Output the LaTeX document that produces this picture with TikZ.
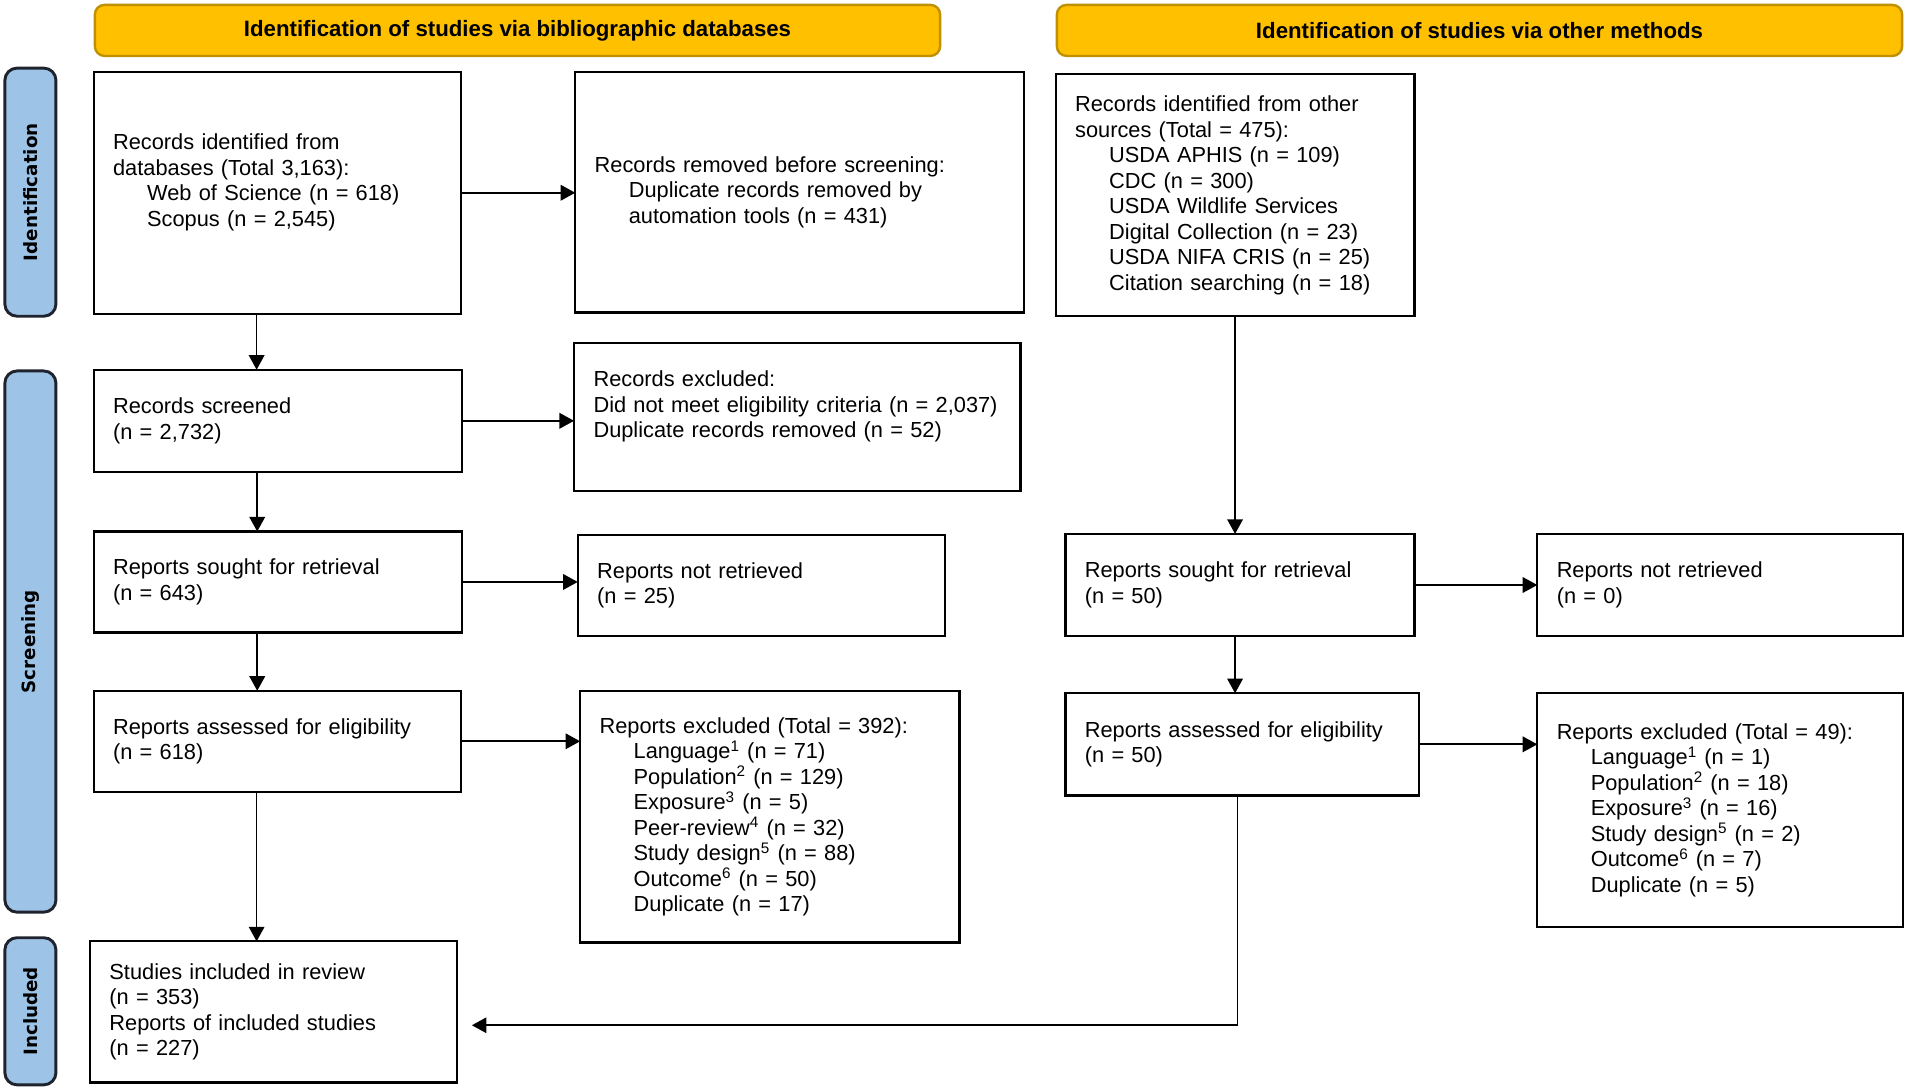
\documentclass[tikz,border=0pt]{standalone}
\usepackage{fontspec}
\setmainfont{Liberation Sans}
\newfontfamily\sidefont{DejaVu Sans}
\usepackage{tikz}
\usetikzlibrary{arrows.meta}
\usetikzlibrary{positioning}
\usetikzlibrary{calc}
\definecolor{headGold}{RGB}{255,192,0}
\definecolor{headEdge}{RGB}{191,144,0}
\definecolor{sideBlue}{RGB}{157,195,230}
\definecolor{sideEdge}{RGB}{30,35,45}
\newcommand{\indt}{\hspace*{0.7cm}}
\tikzstyle{recordBox} = [rectangle, draw, line width=1.3pt, outer sep=0pt, anchor=north west, inner xsep=0.4cm, align=left, font=\fontsize{12.75}{14.9}\selectfont]
\tikzstyle{headBox} = [rectangle, rounded corners=0.2cm, draw=headEdge, line width=1.4pt, outer sep=0pt, fill=headGold, anchor=north west, minimum width=17.375cm, minimum height=1.05cm, font=\fontsize{13}{15}\selectfont\bfseries]
\tikzstyle{sideBox} = [rectangle, rounded corners=0.25cm, draw=sideEdge, line width=1.7pt, fill=sideBlue, rotate=90, minimum height=1.05cm, font=\sidefont\fontsize{10.7}{12}\selectfont\bfseries]
\tikzstyle{flowArrow} = [line width=1pt, -{Triangle[length=0.3cm,width=0.32cm]}]

\begin{document}
\begin{tikzpicture}
	\useasboundingbox (0,0) rectangle (39.2,-22.425);

	% headers
	\node[headBox] (head-db) at (1.95,-0.1) {Identification of studies via bibliographic databases};
	\node[headBox] (head-other) at ([xshift=2.4cm]head-db.north east) {Identification of studies via other methods};

	% phase labels
	\node[sideBox, minimum width=5.1cm] (side-ident) at (0.625,-3.95) {Identification};
	\node[sideBox, minimum width=11.125cm] (side-screen) at (0.625,-13.1875) {Screening};
	\node[sideBox, minimum width=3.025cm] (side-incl) at (0.625,-20.7875) {Included};

	% databases
	\node[recordBox, text width=6.75cm, minimum height=4.975cm] (db-ident) at (1.925,-1.475) {Records identified from\\databases (Total 3,163):\\ \indt Web of Science (n = 618)\\ \indt Scopus (n = 2,545)\\ \mbox{}};

	\node[recordBox, text width=8.425cm, minimum height=4.95cm] (db-removed) at ([xshift=2.35cm]db-ident.north east) {Records removed before screening:\\ \indt Duplicate records removed by\\ \indt automation tools (n = 431)};

	\node[recordBox, text width=6.775cm, minimum height=2.1cm] (db-screened) at ([yshift=-1.15cm]db-ident.south west) {Records screened\\(n = 2,732)};

	\node[recordBox, text width=8.375cm, minimum height=3.05cm] (db-excluded) at ([xshift=2.3cm, yshift=0.55cm]db-screened.north east) {Records excluded:\\\mbox{Did not meet eligibility criteria (n = 2,037)}\\Duplicate records removed (n = 52)\\ \mbox{}};

	\node[recordBox, text width=6.775cm, minimum height=2.075cm] (db-sought) at ([yshift=-1.225cm]db-screened.south west) {Reports sought for retrieval\\(n = 643)};

	\node[recordBox, text width=6.75cm, minimum height=2.075cm] (db-notret) at ([xshift=2.375cm, yshift=-0.075cm]db-sought.north east) {Reports not retrieved\\(n = 25)};

	\node[recordBox, text width=6.75cm, minimum height=2.075cm] (db-assessed) at ([yshift=-1.2cm]db-sought.south west) {Reports assessed for eligibility\\(n = 618)};

	\node[recordBox, text width=7cm, minimum height=5.175cm] (db-repexcl) at ([xshift=2.45cm]db-assessed.north east) {Reports excluded (Total = 392):\\ \indt Language\textsuperscript{1} (n = 71)\\ \indt Population\textsuperscript{2} (n = 129)\\ \indt Exposure\textsuperscript{3} (n = 5)\\ \indt Peer-review\textsuperscript{4} (n = 32)\\ \indt Study design\textsuperscript{5} (n = 88)\\ \indt Outcome\textsuperscript{6} (n = 50)\\ \indt Duplicate (n = 17)};

	\node[recordBox, text width=6.75cm, minimum height=2.9cm] (included) at ([xshift=-0.075cm, yshift=-3.075cm]db-assessed.south west) {Studies included in review\\(n = 353)\\Reports of included studies\\(n = 227)};

	% other methods
	\node[recordBox, text width=6.575cm, minimum height=4.975cm] (oth-ident) at (21.7,-1.525) {Records identified from other\\sources (Total = 475):\\ \indt USDA APHIS (n = 109)\\ \indt CDC (n = 300)\\ \indt USDA Wildlife Services\\ \indt Digital Collection (n = 23)\\ \indt USDA NIFA CRIS (n = 25)\\ \indt Citation searching (n = 18)};

	\node[recordBox, text width=6.375cm, minimum height=2.1cm] (oth-sought) at ([xshift=0.2cm, yshift=-4.475cm]oth-ident.south west) {Reports sought for retrieval\\(n = 50)};

	\node[recordBox, text width=6.725cm, minimum height=2.1cm] (oth-notret) at ([xshift=2.525cm]oth-sought.north east) {Reports not retrieved\\(n = 0)};

	\node[recordBox, text width=6.475cm, minimum height=2.1cm] (oth-assessed) at ([yshift=-1.175cm]oth-sought.south west) {Reports assessed for eligibility\\(n = 50)};

	\node[recordBox, text width=6.725cm, minimum height=4.8cm] (oth-repexcl) at ([xshift=2.425cm]oth-assessed.north east) {Reports excluded (Total = 49):\\ \indt Language\textsuperscript{1} (n = 1)\\ \indt Population\textsuperscript{2} (n = 18)\\ \indt Exposure\textsuperscript{3} (n = 16)\\ \indt Study design\textsuperscript{5} (n = 2)\\ \indt Outcome\textsuperscript{6} (n = 7)\\ \indt Duplicate (n = 5)};

	\coordinate (incl-in) at ([xshift=0.3cm, yshift=-0.275cm]included.east);

	% arrows
	\draw[flowArrow] (db-ident.east) -- (db-ident.east -| db-removed.west);
	\draw[flowArrow] (db-screened.east) -- (db-screened.east -| db-excluded.west);
	\draw[flowArrow] (db-sought.east) -- (db-sought.east -| db-notret.west);
	\draw[flowArrow] (db-assessed.east) -- (db-assessed.east -| db-repexcl.west);
	\draw[flowArrow] ([xshift=-0.425cm]db-ident.south) -- ([xshift=-0.425cm]db-ident.south |- db-screened.north);
	\draw[flowArrow] ([xshift=-0.425cm]db-screened.south) -- ([xshift=-0.425cm]db-screened.south |- db-sought.north);
	\draw[flowArrow] ([xshift=-0.425cm]db-sought.south) -- ([xshift=-0.425cm]db-sought.south |- db-assessed.north);
	\draw[flowArrow] ([xshift=-0.425cm]db-assessed.south) -- ([xshift=-0.425cm]db-assessed.south |- included.north);

	\draw[flowArrow] (oth-ident.south) -- (oth-ident.south |- oth-sought.north);
	\draw[flowArrow] (oth-sought.east) -- (oth-sought.east -| oth-notret.west);
	\draw[flowArrow] (oth-ident.south |- oth-sought.south) -- (oth-ident.south |- oth-assessed.north);
	\draw[flowArrow] (oth-assessed.east) -- (oth-assessed.east -| oth-repexcl.west);
	\draw[flowArrow] ([xshift=0.05cm]oth-ident.south |- oth-assessed.south) |- (incl-in);

\end{tikzpicture}
\end{document}
